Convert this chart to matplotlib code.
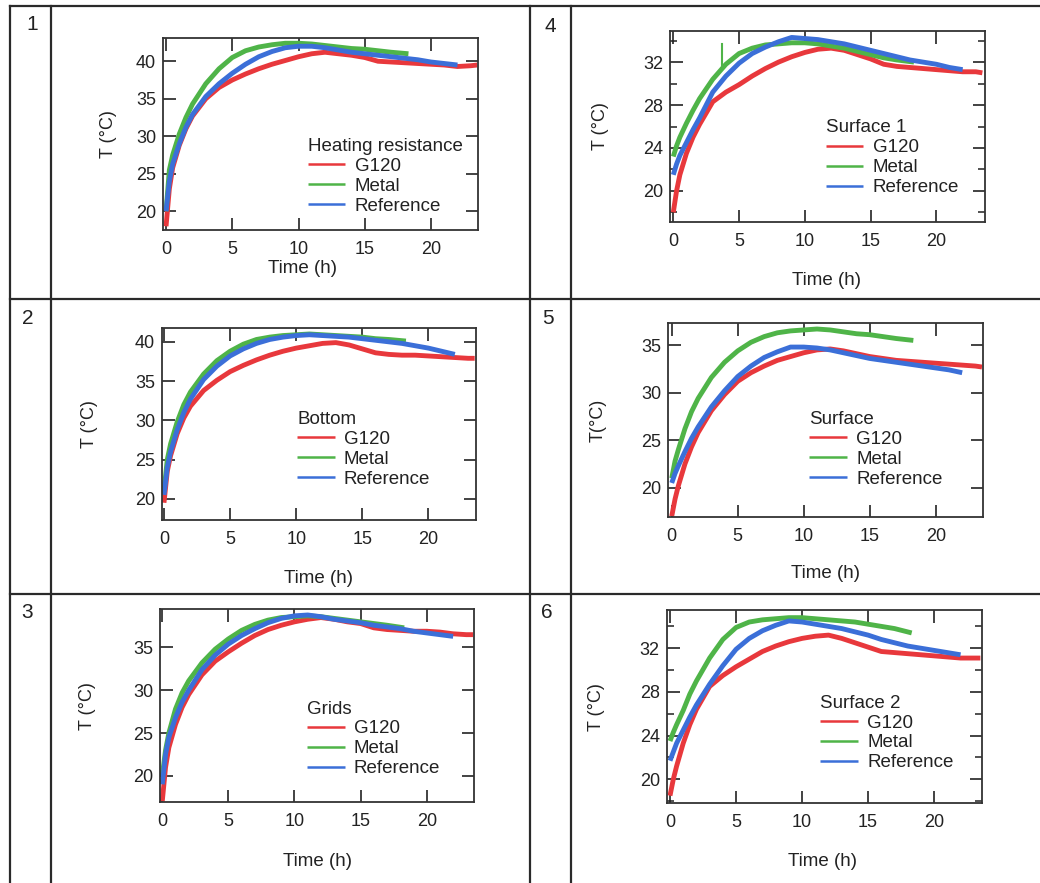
import matplotlib.pyplot as plt
from matplotlib.lines import Line2D
from matplotlib.ticker import MultipleLocator

plt.rcParams['font.family'] = ['Liberation Sans', 'DejaVu Sans']

# time grids (h) for the three series
time_g120 = [0, 0.25, 0.5, 1, 1.5, 2, 3, 4, 5, 6, 7, 8, 9, 10, 11, 12, 13,
             14, 15, 16, 17, 18, 19, 20, 21, 22, 23, 23.5]
time_metal = [0, 0.25, 0.5, 1, 1.5, 2, 3, 4, 5, 6, 7, 8, 9, 10, 11, 12, 13,
              14, 15, 16, 17, 18.3]
time_ref = [0, 0.25, 0.5, 1, 1.5, 2, 3, 4, 5, 6, 7, 8, 9, 10, 11, 12, 13,
            14, 15, 16, 17, 18, 19, 20, 21, 22]

# 1 - Heating resistance
hr_g120 = [18, 23, 25.8, 28.8, 31, 32.7, 35, 36.5, 37.5, 38.3, 39, 39.6, 40.1,
           40.6, 41, 41.2, 41, 40.8, 40.5, 40, 39.9, 39.8, 39.7, 39.6, 39.5,
           39.3, 39.4, 39.5]
hr_metal = [20, 25.5, 27.5, 30.3, 32.5, 34.3, 37, 39, 40.5, 41.4, 41.9, 42.2,
            42.4, 42.4, 42.3, 42.1, 41.9, 41.7, 41.6, 41.4, 41.2, 41.0]
hr_ref = [20, 24, 26.3, 29, 31.2, 32.9, 35.3, 37, 38.4, 39.6, 40.6, 41.3, 41.8,
          42, 42, 41.8, 41.5, 41.2, 41, 40.8, 40.6, 40.4, 40.2, 39.9, 39.7, 39.5]

# 2 - Bottom
bot_g120 = [19.5, 23.5, 25.5, 28.3, 30.3, 31.8, 33.8, 35.1, 36.2, 37, 37.7,
            38.3, 38.8, 39.2, 39.5, 39.8, 39.9, 39.6, 39.1, 38.6, 38.4, 38.3,
            38.3, 38.2, 38.1, 38, 37.9, 37.9]
bot_metal = [21, 25, 27, 29.8, 32, 33.6, 35.9, 37.6, 38.8, 39.7, 40.3, 40.6,
             40.8, 40.9, 41, 40.9, 40.8, 40.7, 40.6, 40.4, 40.3, 40.1]
bot_ref = [20.5, 24, 26, 28.8, 31, 32.7, 35.2, 36.9, 38.2, 39.1, 39.8, 40.3,
           40.6, 40.8, 40.9, 40.8, 40.7, 40.6, 40.4, 40.2, 40, 39.8, 39.5, 39.2,
           38.8, 38.4]

# 3 - Grids
grd_g120 = [17, 21, 23.3, 26, 28, 29.5, 31.8, 33.4, 34.5, 35.5, 36.4, 37.1,
            37.6, 38, 38.3, 38.5, 38.3, 38, 37.8, 37.3, 37.1, 37, 36.9, 36.9,
            36.8, 36.6, 36.5, 36.5]
grd_metal = [20, 23, 25, 27.8, 29.7, 31.1, 33.2, 34.8, 36, 37, 37.7, 38.2,
             38.5, 38.6, 38.7, 38.6, 38.4, 38.2, 38, 37.8, 37.6, 37.3]
grd_ref = [19, 22.5, 24.5, 26.8, 28.6, 30, 32.4, 34.1, 35.4, 36.4, 37.2, 37.9,
           38.4, 38.7, 38.8, 38.6, 38.3, 38.1, 37.9, 37.6, 37.4, 37.2, 36.9,
           36.7, 36.5, 36.3]

# 4 - Surface 1
s1_g120 = [18, 20, 21.5, 23.5, 25, 26.2, 28.3, 29.2, 29.9, 30.7, 31.4, 32,
           32.5, 32.9, 33.2, 33.3, 33.1, 32.7, 32.3, 31.8, 31.6, 31.5, 31.4,
           31.3, 31.2, 31.1, 31.1, 31.0]
s1_metal = [23.2, 24.2, 25, 26.3, 27.5, 28.6, 30.4, 31.8, 32.8, 33.3, 33.6,
            33.7, 33.8, 33.8, 33.7, 33.5, 33.3, 33, 32.7, 32.4, 32.2, 32.0]
s1_ref = [21.5, 22.5, 23.3, 24.5, 25.7, 26.8, 29.2, 30.7, 31.9, 32.8, 33.4,
          33.9, 34.3, 34.2, 34.1, 33.9, 33.7, 33.4, 33.1, 32.8, 32.5, 32.2, 32,
          31.8, 31.5, 31.3]
s1_spike_t = [3.7, 3.7]
s1_spike_T = [31.5, 33.7]

# 5 - Surface
sf_g120 = [17, 18.8, 20.2, 22.5, 24.3, 25.8, 28.1, 29.8, 31.2, 32.1, 32.8,
           33.4, 33.8, 34.2, 34.5, 34.6, 34.4, 34.1, 33.8, 33.6, 33.4, 33.3,
           33.2, 33.1, 33, 32.9, 32.8, 32.7]
sf_metal = [21, 22.8, 24, 26.2, 28, 29.4, 31.6, 33.2, 34.4, 35.3, 35.9, 36.3,
            36.5, 36.6, 36.7, 36.6, 36.4, 36.2, 36.1, 35.9, 35.7, 35.5]
sf_ref = [20.5, 21.5, 22.3, 23.8, 25.2, 26.4, 28.5, 30.2, 31.7, 32.8, 33.7,
          34.3, 34.8, 34.8, 34.7, 34.5, 34.2, 33.9, 33.6, 33.4, 33.2, 33, 32.8,
          32.6, 32.4, 32.1]

# 6 - Surface 2
s2_g120 = [18.5, 20, 21.2, 23.3, 25, 26.4, 28.5, 29.5, 30.3, 31, 31.7, 32.2,
           32.6, 32.9, 33.1, 33.2, 32.9, 32.5, 32.1, 31.7, 31.6, 31.5, 31.4,
           31.3, 31.2, 31.1, 31.1, 31.1]
s2_metal = [23.5, 24.3, 25, 26.3, 27.8, 29, 31.1, 32.8, 33.9, 34.4, 34.6, 34.7,
            34.8, 34.8, 34.7, 34.6, 34.5, 34.4, 34.2, 34, 33.8, 33.4]
s2_ref = [21.7, 22.5, 23.3, 24.5, 25.7, 26.8, 28.7, 30.4, 31.9, 32.9, 33.6,
          34.1, 34.5, 34.4, 34.2, 34, 33.8, 33.5, 33.2, 32.8, 32.5, 32.2, 32,
          31.8, 31.6, 31.4]

series_labels = ['G120', 'Metal', 'Reference']
series_colors = ['#e8383c', '#4fb448', '#3b6fd8']

W, H = 1040, 883


def fx(px):
    return px / W


def fy(py):
    return 1 - py / H


panels = [
    # number, title, data, ylim, ytick step, minor, box(l, r, t, b) px, legend anchor,
    # ylabel, xlabel pos, ylabel x, xlim, number pos
    ('1', 'Heating resistance', (hr_g120, hr_metal, hr_ref), (17.5, 43.1), 5, None,
     (163, 478, 38, 230), (0.46, 0.08), 'T (°C)', (0.444, -0.155), -0.145, (-0.23, 23.55), (32, 25)),
    ('2', 'Bottom', (bot_g120, bot_metal, bot_ref), (17.3, 41.8), 5, None,
     (162, 476, 327.7, 520), (0.43, 0.168), 'T (°C)', (0.497, -0.26), -0.204, (-0.15, 23.6), (28, 318)),
    ('3', 'Grids', (grd_g120, grd_metal, grd_ref), (16.9, 39.5), 5, None,
     (160, 474.3, 609, 802.3), (0.468, 0.129), 'T (°C)', (0.5, -0.26), -0.204, (-0.17, 23.6), (27, 613)),
    ('4', 'Surface 1', (s1_g120, s1_metal, s1_ref), (17.1, 34.9), 4, 2,
     (670, 985, 31, 222), (0.495, 0.135), 'T (°C)', (0.497, -0.26), -0.194, (-0.25, 23.7), (550, 27)),
    ('5', 'Surface', (sf_g120, sf_metal, sf_ref), (16.95, 37.3), 5, None,
     (668.3, 983.3, 323.3, 516.7), (0.448, 0.15), 'T(°C)', (0.498, -0.25), -0.197, (-0.26, 23.6), (548, 318)),
    ('6', 'Surface 2', (s2_g120, s2_metal, s2_ref), (17.8, 35.5), 4, 2,
     (666.7, 981.7, 610, 803.3), (0.488, 0.165), 'T (°C)', (0.496, -0.255), -0.197, (-0.25, 23.6), (547, 613)),
]

fig = plt.figure(figsize=(10.4, 8.83), dpi=100)

# table grid
grid_color = '#2a2a2a'
for x in [10, 51, 530, 571]:
    fig.add_artist(Line2D([fx(x), fx(x)], [fy(5.5), fy(883)], color=grid_color, lw=1.6))
for y in [5.5, 299, 594]:
    fig.add_artist(Line2D([fx(10), fx(1040)], [fy(y), fy(y)], color=grid_color, lw=1.6))

times = [time_g120, time_metal, time_ref]

for num, title, data, ylim, ystep, minor, box, leg_xy, ylab, xlab_xy, ylab_x, xlim, num_xy in panels:
    l, r, t, b = box
    ax = fig.add_axes([fx(l), fy(b), (r - l) / W, (b - t) / H])
    for tt, vals, lab, col in zip(times, data, series_labels, series_colors):
        ax.plot(tt, vals, color=col, lw=3.5, label=lab, solid_capstyle='butt')
    if num == '4':
        ax.plot(s1_spike_t, s1_spike_T, color=series_colors[1], lw=1.5)

    ax.set_xlim(*xlim)
    ax.set_ylim(*ylim)
    ax.set_xticks([0, 5, 10, 15, 20])
    ax.yaxis.set_major_locator(MultipleLocator(ystep))
    if minor:
        ax.yaxis.set_minor_locator(MultipleLocator(minor))
        ax.tick_params(axis='y', which='minor', direction='in', length=5,
                       width=1.1, left=True, right=True, color='#222')
    ax.tick_params(which='major', direction='in', length=9, width=1.2,
                   top=True, right=True, labelsize=13, color='#222',
                   labelcolor='#222')
    ax.tick_params(axis='x', pad=8)
    ax.tick_params(axis='y', pad=5)
    for sp in ax.spines.values():
        sp.set_linewidth(1.3)
        sp.set_color('#333')

    ax.set_xlabel('Time (h)', fontsize=13.5, color='#222')
    ax.xaxis.set_label_coords(*xlab_xy)
    ax.set_ylabel(ylab, fontsize=13, color='#222')
    ax.yaxis.set_label_coords(ylab_x, 0.5)

    leg = ax.legend(title=title, loc='lower left', bbox_to_anchor=leg_xy,
                    frameon=False, fontsize=13.5, title_fontsize=13.5,
                    borderpad=0, borderaxespad=0, handlelength=2.0,
                    handletextpad=0.5, labelspacing=0.15, alignment='left')
    for ln in leg.get_lines():
        ln.set_linewidth(1.8)
    for txt in leg.get_texts():
        txt.set_color('#222')
    leg.get_title().set_color('#222')

    fig.text(fx(num_xy[0]), fy(num_xy[1]), num, fontsize=15, color='#222',
             ha='center', va='center')

plt.savefig('out.png', dpi=100)
plt.close()
